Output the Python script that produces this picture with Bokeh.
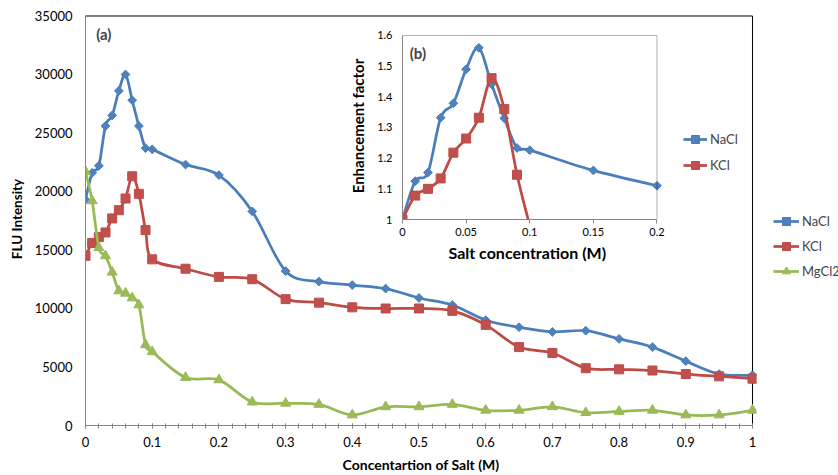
import numpy as np
from bokeh.plotting import figure
from bokeh.models import (Range1d, FixedTicker, NumeralTickFormatter, Legend,
                          LegendItem, Label, BoxAnnotation, Title)
from bokeh.embed import file_html
from bokeh.resources import INLINE

# ---- main panel (a): fluorescence intensity vs salt concentration ----
salt_m = [0, 0.01, 0.02, 0.03, 0.04, 0.05, 0.06, 0.07, 0.08, 0.09, 0.1,
          0.15, 0.2, 0.25, 0.3, 0.35, 0.4, 0.45, 0.5, 0.55, 0.6, 0.65,
          0.7, 0.75, 0.8, 0.85, 0.9, 0.95, 1.0]
nacl_flu = [19300, 21600, 22200, 25600, 26500, 28600, 30000, 27800, 25600,
            23700, 23600, 22300, 21400, 18300, 13200, 12300, 12000, 11700,
            10900, 10300, 9000, 8400, 8000, 8100, 7400, 6700, 5500, 4400, 4300]
kcl_flu = [14500, 15600, 16100, 16500, 17700, 18400, 19400, 21300, 19800,
           16700, 14200, 13400, 12700, 12500, 10800, 10500, 10100, 10000,
           10000, 9800, 8600, 6700, 6200, 4900, 4800, 4700, 4400, 4200, 4000]
mgcl2_flu = [21700, 19200, 15200, 14500, 13100, 11500, 11300, 10900, 10300,
             6900, 6300, 4100, 3900, 2000, 1900, 1800, 900, 1600, 1600, 1800,
             1300, 1300, 1600, 1100, 1200, 1300, 900, 900, 1300]

x_ticks = [0, 0.1, 0.2, 0.3, 0.4, 0.5, 0.6, 0.7, 0.8, 0.9, 1.0]
y_ticks = [0, 5000, 10000, 15000, 20000, 25000, 30000, 35000]

# ---- inset panel (b): enhancement factor ----
inset_m = [0, 0.01, 0.02, 0.03, 0.04, 0.05, 0.06, 0.07, 0.08, 0.09, 0.1,
           0.15, 0.2]
nacl_ef = [1.0, 1.125, 1.153, 1.332, 1.379, 1.49, 1.56, 1.441, 1.33, 1.233,
           1.226, 1.16, 1.11]
kcl_m = [0, 0.01, 0.02, 0.03, 0.04, 0.05, 0.06, 0.07, 0.08, 0.09, 0.1]
kcl_ef = [1.0, 1.078, 1.10, 1.134, 1.218, 1.264, 1.332, 1.461, 1.36, 1.146,
          0.98]

inset_x_ticks = [0, 0.05, 0.1, 0.15, 0.2]
inset_y_ticks = [1.0, 1.1, 1.2, 1.3, 1.4, 1.5, 1.6]

BLUE, BLUE_LINE = "#4F81BD", "#4A7EBB"
RED, RED_LINE = "#C0504D", "#BE4B48"
GREEN, GREEN_LINE = "#9BBB59", "#98B954"
FONT = "Lato"
AXIS_GRAY = "#868686"
DIAMOND_ANGLE = np.pi / 4


def smooth(xs, ys):
    """Catmull-Rom style cubic segments through the points (spreadsheet 'smoothed line')."""
    x = np.asarray(xs, float)
    y = np.asarray(ys, float)
    n = len(x)
    xp = np.concatenate([[x[0]], x, [x[-1]]])
    yp = np.concatenate([[y[0]], y, [y[-1]]])
    return dict(
        x0=x[:-1], y0=y[:-1], x1=x[1:], y1=y[1:],
        cx0=x[:-1] + (xp[2:n + 1] - xp[0:n - 1]) / 6.0,
        cy0=y[:-1] + (yp[2:n + 1] - yp[0:n - 1]) / 6.0,
        cx1=x[1:] - (xp[3:n + 2] - xp[1:n]) / 6.0,
        cy1=y[1:] - (yp[3:n + 2] - yp[1:n]) / 6.0,
    )


def series(fig, xs, ys, line_color, fill, marker, size, angle=0.0):
    curve = fig.bezier(**smooth(xs, ys), line_color=line_color, line_width=2.75)
    pts = fig.scatter(xs, ys, marker=marker, size=size, angle=angle,
                      fill_color=fill, line_color=line_color, line_width=1)
    return [curve, pts]


def style_axes(fig, tick_size):
    for ax in (fig.xaxis, fig.yaxis):
        ax.axis_line_color = AXIS_GRAY
        ax.major_tick_line_color = AXIS_GRAY
        ax.minor_tick_line_color = AXIS_GRAY
        ax.major_label_text_font = FONT
        ax.major_label_text_font_size = tick_size
        ax.major_label_text_color = "#000000"
        ax.axis_label_text_font = FONT
        ax.axis_label_text_font_style = "bold"
        ax.axis_label_text_color = "#000000"
    fig.xgrid.visible = False
    fig.ygrid.visible = False


def legend(items, loc, spacing, glyph_width):
    return Legend(items=items, location=loc, padding=0, margin=0,
                  spacing=spacing, glyph_width=glyph_width, glyph_height=20,
                  label_height=22, label_standoff=3, label_text_font=FONT,
                  label_text_font_size="13px", border_line_color=None,
                  background_fill_alpha=0)


# ---------------- main figure ----------------
# the frame is a few pixels larger than the plotted box so the box edges
# and the end markers are drawn whole
main = figure(width=838, height=475, x_range=Range1d(0, 1.006),
              y_range=Range1d(0, 35298), output_backend="svg",
              toolbar_location=None, min_border_left=85, min_border_right=82,
              min_border_top=12, min_border_bottom=49)
main.background_fill_color = "white"
main.border_fill_color = "white"
style_axes(main, "13px")
main.outline_line_color = None

# plotted box outline, spanning the axis extents
main.quad(left=[x_ticks[0]], right=[x_ticks[-1]],
          bottom=[y_ticks[0]], top=[y_ticks[-1]],
          fill_alpha=0, line_color="#000000", line_width=1)

main.xaxis.bounds = (x_ticks[0], x_ticks[-1])
main.xaxis.ticker = FixedTicker(ticks=x_ticks,
                                minor_ticks=list(np.round(np.arange(0, 1.0001, 0.02), 2)))
main.xaxis.formatter = NumeralTickFormatter(format="0.[0]")
main.xaxis.major_tick_in = 2
main.xaxis.major_tick_out = 3
main.xaxis.minor_tick_in = 2
main.xaxis.minor_tick_out = 3
main.xaxis.major_label_standoff = 8
main.xaxis.axis_label = "Concentartion of Salt (M)"
main.xaxis.axis_label_text_font_size = "14px"
main.xaxis.axis_label_standoff = 6

main.yaxis.bounds = (y_ticks[0], y_ticks[-1])
main.yaxis.ticker = FixedTicker(ticks=y_ticks, minor_ticks=[])
main.yaxis.formatter = NumeralTickFormatter(format="0")
main.yaxis.major_tick_in = 0
main.yaxis.major_tick_out = 0
main.yaxis.major_label_standoff = 13
main.yaxis.axis_label = "FLU Intensity"
main.yaxis.axis_label_text_font_size = "13.5px"
main.yaxis.axis_label_standoff = 7

series(main, salt_m, nacl_flu, BLUE_LINE, BLUE, "square", 6.2, DIAMOND_ANGLE)
series(main, salt_m, kcl_flu, RED_LINE, RED, "square", 9)
series(main, salt_m, mgcl2_flu, GREEN_LINE, GREEN, "triangle", 10)

main.add_layout(Label(x=0.016, y=33500, text="(a)", text_font=FONT,
                      text_font_style="bold", text_font_size="15px",
                      text_baseline="middle"))

# ---------------- key for the main panel ----------------
# a frameless companion plot beside the main box that only carries the key;
# its view window lies away from the data, so only the legend shows
key = figure(width=70, height=80, x_range=Range1d(5, 6), y_range=Range1d(-2, -1),
             output_backend="svg", toolbar_location=None, min_border=0,
             styles={"position": "absolute", "left": "768px", "top": "205px"})
key.axis.visible = False
key.xgrid.visible = False
key.ygrid.visible = False
key.outline_line_color = None
key.background_fill_alpha = 0
key.border_fill_alpha = 0
k_nacl = series(key, salt_m, nacl_flu, BLUE_LINE, BLUE, "square", 6.2, DIAMOND_ANGLE)
k_kcl = series(key, salt_m, kcl_flu, RED_LINE, RED, "square", 9)
k_mg = series(key, salt_m, mgcl2_flu, GREEN_LINE, GREEN, "triangle", 10)
key.add_layout(legend([LegendItem(label="NaCl", renderers=k_nacl),
                       LegendItem(label="KCl", renderers=k_kcl),
                       LegendItem(label="MgCl2", renderers=k_mg)],
                      (5, 3), 3, 26))

# ---------------- inset figure ----------------
# frame runs past the plotted box on the right so the inset key fits inside it
inset = figure(width=410, height=272,
               x_range=Range1d(0, 0.27348),
               y_range=Range1d(1, 1.60978), output_backend="svg",
               toolbar_location=None, min_border_left=62, min_border_right=0,
               min_border_top=32, min_border_bottom=53,
               styles={"position": "absolute", "left": "340px", "top": "0px"})
inset.background_fill_color = "white"
inset.border_fill_alpha = 0
style_axes(inset, "11px")
inset.outline_line_color = None

inset.add_layout(BoxAnnotation(left=0, right=0.2, bottom=1, top=1.6,
                               fill_alpha=0, line_color="#000000",
                               line_width=1, level="glyph"))

inset.xaxis.bounds = (0, 0.2)
inset.xaxis.ticker = FixedTicker(ticks=inset_x_ticks, minor_ticks=[])
inset.xaxis.formatter = NumeralTickFormatter(format="0.[00]")
inset.xaxis.major_tick_in = 0
inset.xaxis.major_tick_out = 4
inset.xaxis.major_label_standoff = 4
inset.add_layout(Title(text="Salt concentration (M)", align="left", offset=46,
                       standoff=5, text_font=FONT, text_font_size="16px",
                       text_font_style="bold", text_color="#000000"), "below")

inset.yaxis.bounds = (1, 1.6)
inset.yaxis.ticker = FixedTicker(ticks=inset_y_ticks, minor_ticks=[])
inset.yaxis.formatter = NumeralTickFormatter(format="0.[0]")
inset.yaxis.major_tick_in = 0
inset.yaxis.major_tick_out = 0
inset.yaxis.major_label_standoff = 10
inset.yaxis.axis_label = "Enhancement factor"
inset.yaxis.axis_label_text_font_size = "15px"
inset.yaxis.axis_label_standoff = 7

ri_nacl = series(inset, inset_m, nacl_ef, BLUE_LINE, BLUE, "square", 6.2, DIAMOND_ANGLE)
ri_kcl = series(inset, kcl_m, kcl_ef, RED_LINE, RED, "square", 9)

inset.add_layout(legend([LegendItem(label="NaCl", renderers=ri_nacl),
                         LegendItem(label="KCl", renderers=ri_kcl)],
                        (281, 43), 4, 24))

inset.add_layout(Label(x=0.0057, y=1.543, text="(b)", text_font=FONT,
                       text_font_style="bold", text_font_size="15px",
                       text_baseline="middle"))

p = [main, inset, key]
open("out.html", "w").write(file_html(p, INLINE))
